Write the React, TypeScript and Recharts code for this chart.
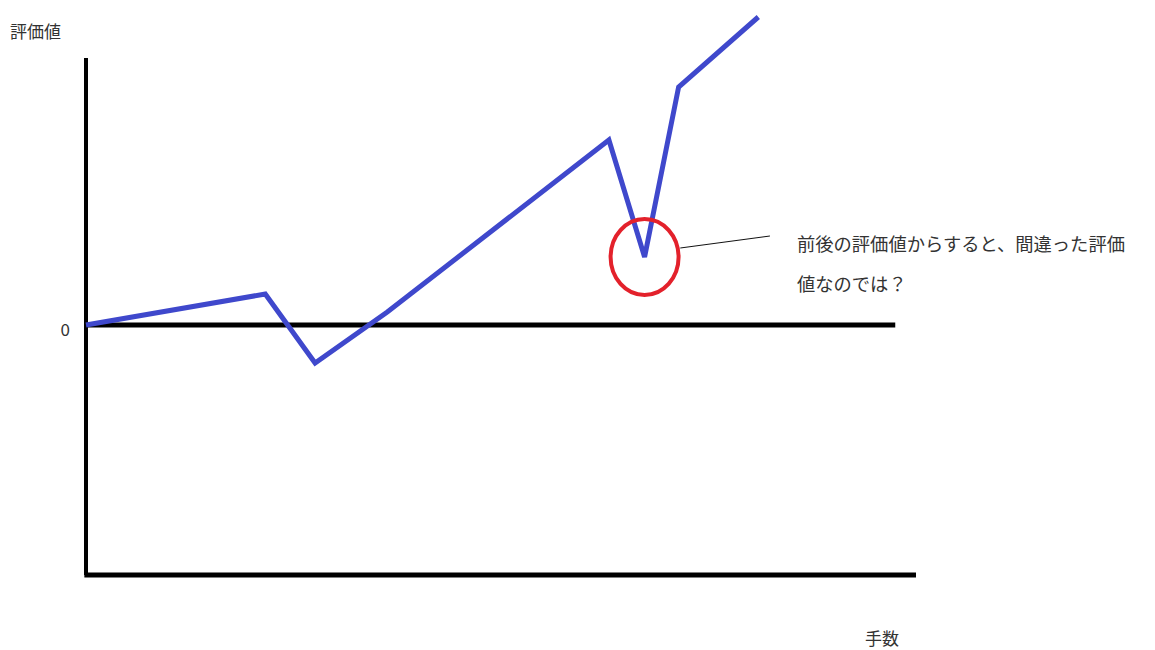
import React from 'react';
import {
  LineChart,
  Line,
  XAxis,
  YAxis,
  ReferenceLine,
  ReferenceDot
} from 'recharts';

// move number (0-100 scale) and evaluation value
const moves = [0, 21.6, 27.6, 36.3, 63, 67.3, 71.4, 81];
const evals = [0, 12.4, -15.2, 5.2, 74, 27.2, 95.2, 123.2];

const yTicks = [0];
const suspectMove = 67.3;
const suspectEval = 27.2;

const yLabel = '評価値';
const xLabel = '手数';
const noteLines = ['前後の評価値からすると、間違った評価', '値なのでは？'];

const data = moves.map((m, i) => ({ move: m, ev: evals[i] }));

const FONT = '"Noto Sans CJK JP", "Noto Sans", sans-serif';

const Ellipse = (props: any) => (
  <ellipse cx={props.cx} cy={props.cy} rx={34} ry={38} fill="none" stroke="#e3212b" strokeWidth={4} />
);

export default function App() {
  return (
    <div style={{ position: 'fixed', left: 0, top: 0, width: 1155, height: 650, background: '#fff', fontFamily: FONT, color: '#333' }}>
      <LineChart
        width={1155}
        height={650}
        data={data}
        margin={{ top: 10, right: 239, bottom: 75, left: 26 }}
      >
        <XAxis dataKey="move" type="number" domain={[0, 100]} hide />
        <YAxis
          type="number"
          domain={[-100, 126]}
          ticks={yTicks}
          width={60}
          axisLine={false}
          tickLine={false}
          tickMargin={10}
          tick={{ fill: '#333', fontSize: 17, fontFamily: FONT, dy: 5 }}
        />
        <ReferenceLine
          segment={[{ x: 0, y: 106.8 }, { x: 0, y: -100 }]}
          stroke="#000"
          strokeWidth={4}
          ifOverflow="visible"
        />
        <ReferenceLine
          segment={[{ x: 0, y: 0 }, { x: 97.5, y: 0 }]}
          stroke="#000"
          strokeWidth={5}
          ifOverflow="visible"
        />
        <ReferenceLine
          segment={[{ x: -0.2, y: -100 }, { x: 100, y: -100 }]}
          stroke="#000"
          strokeWidth={5}
          ifOverflow="visible"
        />
        <ReferenceLine
          segment={[{ x: 71.6, y: 30.8 }, { x: 82.4, y: 35.6 }]}
          stroke="#111"
          strokeWidth={1}
          ifOverflow="visible"
        />
        <Line
          type="linear"
          dataKey="ev"
          stroke="#3f48cc"
          strokeWidth={5}
          strokeLinejoin="miter"
          dot={false}
          activeDot={false}
          isAnimationActive={false}
        />
        <ReferenceDot
          x={suspectMove}
          y={suspectEval}
          r={36}
          shape={Ellipse}
          ifOverflow="visible"
        />
      </LineChart>
      <div style={{ position: 'absolute', left: 10, top: 19, fontSize: 17, lineHeight: '24px' }}>{yLabel}</div>
      <div style={{ position: 'absolute', left: 865, top: 628, fontSize: 17, lineHeight: '20px' }}>{xLabel}</div>
      {noteLines.map((t, i) => (
        <div
          key={t}
          style={{ position: 'absolute', left: 797, top: 230 + i * 40, fontSize: 18.3, lineHeight: '26px', whiteSpace: 'nowrap' }}
        >
          {t}
        </div>
      ))}
    </div>
  );
}
